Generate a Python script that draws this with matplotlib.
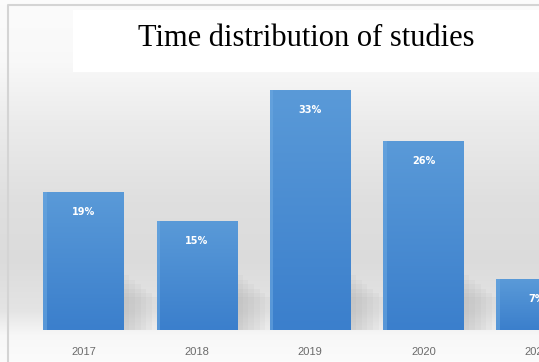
import numpy as np
import matplotlib.pyplot as plt
from matplotlib.patches import Rectangle
from matplotlib.colors import LinearSegmentedColormap

years = ["2017", "2018", "2019", "2020", "2021"]
shares = [19, 15, 33, 26, 7]
title = "Time distribution of studies"

W, H = 539, 362
fig = plt.figure(figsize=(W / 100, H / 100), dpi=100)

# background panel: vertical gray gradient
bg = fig.add_axes([0, 0, 1, 1])
bg.set_xlim(0, W)
bg.set_ylim(H, 0)
bg.axis("off")
rows = np.array([
    [0, 0.985], [60, 0.975], [120, 0.925], [200, 0.875], [260, 0.86],
    [310, 0.895], [335, 0.97], [362, 0.985],
])
yy = np.arange(H)
shade = np.interp(yy, rows[:, 0], rows[:, 1])
grad = np.repeat(shade[:, None], W, axis=1)
bg.imshow(np.dstack([grad, grad, grad]), extent=[0, W, H, 0], aspect="auto", zorder=0)
bg.plot([8, 8, W], [H, 5, 5], color="#d4d4d4", lw=1.5, zorder=1)
bg.add_patch(Rectangle((73, 10), W - 73, 62, facecolor="white", edgecolor="none", zorder=1))
bg.text(306, 39, title, ha="center", va="center", fontsize=22,
        family="Liberation Serif", color="black", zorder=2)

# main axes with bars; right end runs past the figure edge
px_per_cat = 113.3
left_px = 83.5 - px_per_cat / 2
ax = fig.add_axes([left_px / W, 32 / H, 5 * px_per_cat / W, 35 * 7.27 / H])
ax.patch.set_alpha(0)
for s in ax.spines.values():
    s.set_visible(False)
ax.set_yticks([])
ax.set_xticks(range(len(years)))
ax.set_xticklabels(years, fontsize=8, color="#6b6b6b", family="Liberation Sans")
ax.tick_params(axis="x", length=0, pad=12)

bar_w = 0.71
blue = LinearSegmentedColormap.from_list("bl", ["#3b7fcc", "#5a9ad8"])
ramp = np.linspace(0, 1, 100)[:, None]

x = np.arange(len(years))
bars = ax.bar(x, shares, width=bar_w, color="#4a8bd2", edgecolor="none", zorder=3)
for b, v in zip(bars, shares):
    x0 = b.get_x()
    # soft shadow to the right of each bar
    for k in range(6):
        ax.add_patch(Rectangle((x0 + bar_w, 0), 0.05 + 0.05 * k, min(v, 7.5) - k * 0.6,
                               facecolor="#8a8a8a", alpha=0.06, edgecolor="none", zorder=2))
    im = ax.imshow(ramp, cmap=blue, extent=[x0, x0 + bar_w, 0, v], origin="lower",
                   aspect="auto", zorder=3.5)
    im.set_clip_path(b)
    ax.add_patch(Rectangle((x0, 0), 0.03, v, facecolor="#6aa7e0", edgecolor="none",
                           alpha=0.6, zorder=3.6))
    ax.text(b.get_x() + bar_w / 2, v - 2.8, f"{v}%", ha="center", va="center",
            fontsize=7, fontweight="bold", color="white", zorder=4)

ax.set_xlim(-0.5, 4.5)
ax.set_ylim(0, 35)

fig.savefig("out.png", dpi=100)
